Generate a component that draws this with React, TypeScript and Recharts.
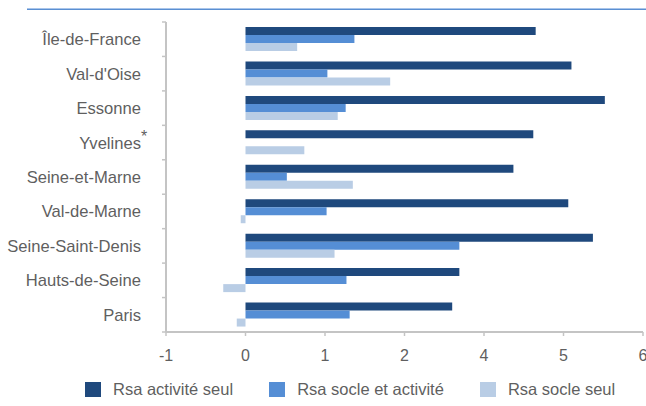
import React from 'react';
import { BarChart, Bar, XAxis, YAxis } from 'recharts';

// Regions, top to bottom
const REGIONS = [
  'Île-de-France',
  "Val-d'Oise",
  'Essonne',
  'Yvelines',
  'Seine-et-Marne',
  'Val-de-Marne',
  'Seine-Saint-Denis',
  'Hauts-de-Seine',
  'Paris',
];
// Regions carrying a footnote mark
const FOOTNOTED = ['Yvelines'];

const ACTIVITE_SEUL = [3.65, 4.1, 4.52, 3.62, 3.37, 4.06, 4.37, 2.69, 2.6];
const SOCLE_ET_ACTIVITE = [1.37, 1.03, 1.26, 0, 0.52, 1.02, 2.69, 1.27, 1.31];
const SOCLE_SEUL = [0.65, 1.82, 1.16, 0.74, 1.35, -0.06, 1.12, -0.28, -0.11];

// Axis tick positions and the labels printed under them
const X_TICKS = [-1, 0, 1, 2, 3, 4, 5];
const X_TICK_LABELS = ['-1', '0', '1', '2', '4', '5', '6'];

const SERIES = [
  { key: 'activiteSeul', name: 'Rsa activité seul', color: '#1F497D' },
  { key: 'socleEtActivite', name: 'Rsa socle et activité', color: '#558ED5' },
  { key: 'socleSeul', name: 'Rsa socle seul', color: '#B9CDE5' },
];

const data = REGIONS.map((region, i) => ({
  region,
  activiteSeul: ACTIVITE_SEUL[i],
  socleEtActivite: SOCLE_ET_ACTIVITE[i],
  socleSeul: SOCLE_SEUL[i],
}));

const W = 646;
const H = 406;
const PLOT_TOP = 22;
const PLOT_BOTTOM = 332;
const PLOT_LEFT = 166;
const PLOT_RIGHT = 643;
const X_AXIS_HEIGHT = 30;
const BAND = (PLOT_BOTTOM - PLOT_TOP) / REGIONS.length;

const TEXT = '#5f5f5f';
const AXIS = '#c4c4c4';
const FONT = '"Liberation Sans", Arial, sans-serif';

const RegionTick = (props: any) => {
  const { y, payload, index } = props;
  const label: string = payload.value;
  const top = y - BAND / 2;
  const isLast = index === REGIONS.length - 1;
  return (
    <g>
      <line x1={PLOT_LEFT - 4} x2={PLOT_LEFT} y1={top} y2={top} stroke={AXIS} strokeWidth={1.5} />
      {isLast && (
        <line
          x1={PLOT_LEFT - 4}
          x2={PLOT_LEFT}
          y1={y + BAND / 2}
          y2={y + BAND / 2}
          stroke={AXIS}
          strokeWidth={1.5}
        />
      )}
      <text
        x={PLOT_LEFT - 25}
        y={y}
        dy="0.36em"
        textAnchor="end"
        fill={TEXT}
        fontSize={16.6}
        fontFamily={FONT}
      >
        {label}
      </text>
      {FOOTNOTED.includes(label) && (
        <text
          x={PLOT_LEFT - 25}
          y={y - 1}
          textAnchor="start"
          fill={TEXT}
          fontSize={16}
          fontFamily={FONT}
        >
          *
        </text>
      )}
    </g>
  );
};

const ValueTick = (props: any) => {
  const { x, index } = props;
  return (
    <text
      x={x}
      y={PLOT_BOTTOM + 29}
      textAnchor="middle"
      fill={TEXT}
      fontSize={16}
      fontFamily={FONT}
    >
      {X_TICK_LABELS[index]}
    </text>
  );
};

const LegendRow = () => (
  <div
    style={{
      position: 'absolute',
      left: 85,
      top: 381,
      display: 'flex',
      alignItems: 'center',
      fontFamily: FONT,
      fontSize: 16.5,
      color: TEXT,
      whiteSpace: 'nowrap',
    }}
  >
    {SERIES.map((s, i) => (
      <div
        key={s.key}
        style={{ display: 'flex', alignItems: 'center', marginLeft: i === 0 ? 0 : 36 }}
      >
        <div style={{ width: 16, height: 15, background: s.color, marginRight: 12 }} />
        <span style={{ lineHeight: '17px' }}>{s.name}</span>
      </div>
    ))}
  </div>
);

export default function App() {
  return (
    <div style={{ position: 'absolute', left: 0, top: 0, width: W, height: H, background: '#fff' }}>
      <div style={{ position: 'absolute', left: 27, top: 8, width: W - 27, height: 1, background: '#a9c5ea' }} />
      <div style={{ position: 'absolute', left: 27, top: 9, width: W - 27, height: 1, background: '#5a8fd2' }} />
      <BarChart
        width={W}
        height={H}
        data={data}
        layout="vertical"
        margin={{ top: PLOT_TOP, right: W - PLOT_RIGHT, bottom: H - PLOT_BOTTOM - X_AXIS_HEIGHT, left: 0 }}
        barSize={8}
        barGap={0}
      >
        <XAxis
          type="number"
          domain={[-1, 5]}
          ticks={X_TICKS}
          interval={0}
          height={X_AXIS_HEIGHT}
          axisLine={{ stroke: AXIS, strokeWidth: 2 }}
          tickLine={{ stroke: AXIS, strokeWidth: 1.5 }}
          tickSize={4}
          tick={<ValueTick />}
        />
        <XAxis
          xAxisId="top"
          orientation="top"
          type="number"
          domain={[-1, 5]}
          height={0}
          tick={false}
          tickLine={false}
          axisLine={{ stroke: AXIS, strokeWidth: 2 }}
        />
        <YAxis
          type="category"
          dataKey="region"
          width={PLOT_LEFT}
          interval={0}
          axisLine={{ stroke: AXIS, strokeWidth: 2 }}
          tickLine={false}
          tick={<RegionTick />}
        />
        <YAxis
          yAxisId="right"
          orientation="right"
          type="category"
          dataKey="region"
          width={0}
          tick={false}
          tickLine={false}
          axisLine={{ stroke: AXIS, strokeWidth: 2 }}
        />
        {SERIES.map((s) => (
          <Bar key={s.key} dataKey={s.key} name={s.name} fill={s.color} isAnimationActive={false} />
        ))}
      </BarChart>
      <LegendRow />
    </div>
  );
}
